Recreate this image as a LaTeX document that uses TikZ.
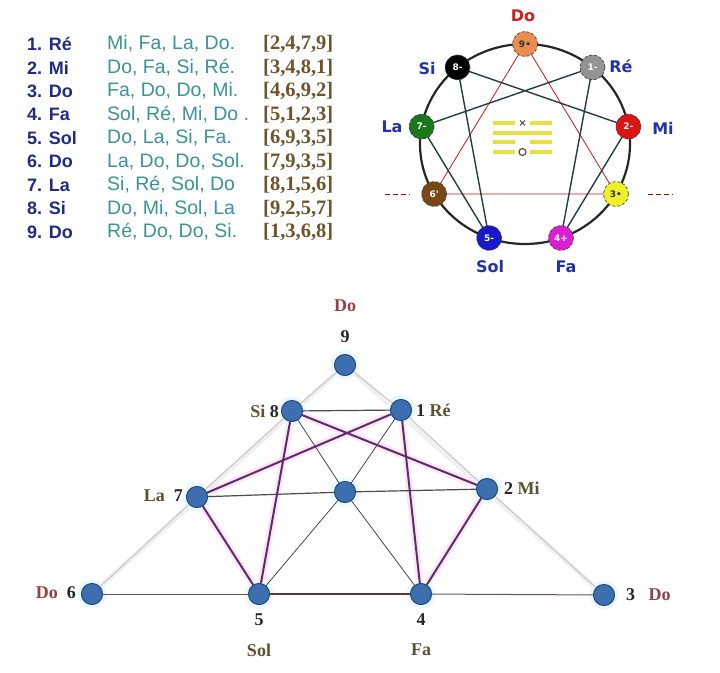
\documentclass[tikz,border=0pt]{standalone}
\usepackage{fontspec}
\setmainfont{Liberation Serif}
\newfontfamily\arialf{Liberation Sans}
\newfontfamily\verdf{DejaVu Sans}
\definecolor{navy}{HTML}{1F2A8A}
\definecolor{tealn}{HTML}{3A9494}
\definecolor{brk}{HTML}{6E5428}
\definecolor{eblue}{HTML}{2233AA}
\definecolor{ered}{HTML}{CC2222}
\definecolor{olivet}{HTML}{5A5230}
\definecolor{dored}{HTML}{93424A}
\definecolor{nodeb}{HTML}{3D6FB0}
\definecolor{nodebd}{HTML}{23467A}
\definecolor{purp}{HTML}{5B2D6E}
\definecolor{hexc}{HTML}{1F3F44}
\definecolor{yel}{HTML}{E8E040}
\begin{document}
\begin{tikzpicture}[x=1pt,y=-1pt,
  tname/.style={anchor=west,inner sep=0pt,font=\arialf\bfseries\fontsize{18}{20}\selectfont,text=navy},
  tnote/.style={anchor=west,inner sep=0pt,font=\arialf\fontsize{19.5}{21}\selectfont,text=tealn},
  tbrk/.style={anchor=west,inner sep=0pt,font=\bfseries\fontsize{20.5}{22}\selectfont,text=brk},
  en/.style={circle,minimum size=25pt,inner sep=0pt,draw=black!75,densely dashed,line width=0.7pt,font=\verdf\bfseries\fontsize{9}{10}\selectfont},
  elab/.style={font=\verdf\bfseries\fontsize{16}{18}\selectfont,text=eblue,inner sep=0pt},
  bn/.style={circle,minimum size=21pt,inner sep=0pt,fill=nodeb,draw=nodebd,line width=0.8pt},
  glowb/.style={circle,minimum size=29pt,inner sep=0pt,fill=cyan!8},
  blab/.style={font=\bfseries\fontsize{18}{20}\selectfont,text=black!85,inner sep=0pt},
  gline/.style={draw=gray!50,line width=0.8pt},
  gglow/.style={draw=gray!12,line width=5pt},
  pline/.style={draw=purp,line width=2pt},
  pglow/.style={draw=magenta!10,line width=7pt},
  tline/.style={draw=black!80,line width=0.7pt},
  hline/.style={draw=black!70,line width=1.2pt},
  yl/.style={draw=yel,line width=3.5pt}
]
\useasboundingbox (0,0) rectangle (720,672);
\fill[white] (0,0) rectangle (720,672);

% ---------- table ----------
\foreach \i/\nm/\nt/\br in {1/{1. Ré}/{Mi, Fa, La, Do.}/{[2,4,7,9]},
  2/{2. Mi}/{Do, Fa, Si, Ré.}/{[3,4,8,1]},
  3/{3. Do}/{Fa, Do, Do, Mi.}/{[4,6,9,2]},
  4/{4. Fa}/{Sol, Ré, Mi, Do .}/{[5,1,2,3]},
  5/{5. Sol}/{Do, La, Si, Fa.}/{[6,9,3,5]},
  6/{6. Do}/{La, Do, Do, Sol.}/{[7,9,3,5]},
  7/{7. La}/{Si, Ré, Sol, Do}/{[8,1,5,6]},
  8/{8. Si}/{Do, Mi, Sol, La}/{[9,2,5,7]},
  9/{9. Do}/{Ré, Do, Do, Si.}/{[1,3,6,8]}}{
  \pgfmathsetmacro\yy{44+23.5*(\i-1)}
  \node[tname] (tn\i) at (27,\yy) {\nm};
  \node[tnote] (tt\i) at (107,\yy) {\nt};
  \node[tbrk] (tb\i) at (263,\yy) {\br};
}

% ---------- enneagram ----------
\def\cx{525}\def\cy{144}\def\rx{105}\def\ry{100}
\foreach \k/\ang in {9/90,1/50,2/10,3/-30,4/-70,5/-110,6/-150,7/170,8/130}{
  \coordinate (ep\k) at ({\cx+\rx*cos(\ang)},{\cy-\ry*sin(\ang)});
}
\draw[black!85,line width=2.2pt] (\cx,\cy) ellipse [x radius=\rx,y radius=\ry];
% red triangle
\draw[red!75!black!90,line width=0.8pt] (ep9) -- (ep3) -- (ep6) -- cycle;
% hexad
\draw[hexc,line width=1.4pt] (ep1) -- (ep4) -- (ep2) -- (ep8) -- (ep5) -- (ep7) -- cycle;
% red dashes
\coordinate (dl1) at (385,194); \coordinate (dl2) at (410,194);
\coordinate (dr1) at (648,194); \coordinate (dr2) at (673,194);
\draw[red!75!black,line width=1pt,dash pattern=on 5pt off 3pt] (dl1) -- (dl2);
\draw[red!75!black,line width=1pt,dash pattern=on 5pt off 3pt] (dr1) -- (dr2);
% hexagram symbol
\draw[yl] (493,123) -- (515,123) (530,123) -- (552,123);
\draw[yl] (493,133) -- (552,133);
\draw[yl] (493,142) -- (515,142) (530,142) -- (552,142);
\draw[yl] (493,152) -- (515,152) (530,152) -- (552,152);
\node[inner sep=0pt,font=\verdf\bfseries\fontsize{10}{10}\selectfont,text=black!70] (hx) at (522.5,123) {×};
\node[circle,draw=olivet,line width=1.2pt,minimum size=7pt,inner sep=0pt] (ho) at (522.5,152) {};
% nodes
\node[en,fill={rgb,255:red,235;green,140;blue,80},text=black!80] (e9) at (ep9) {9•};
\node[en,fill=gray!85,text=white] (e1) at (ep1) {1-};
\node[en,fill={rgb,255:red,220;green,20;blue,20},text=white] (e2) at (ep2) {2-};
\node[en,fill={rgb,255:red,240;green,240;blue,40},text=black!80] (e3) at (ep3) {3•};
\node[en,fill={rgb,255:red,220;green,30;blue,210},text=white] (e4) at (ep4) {4+};
\node[en,fill={rgb,255:red,25;green,25;blue,200},text=white] (e5) at (ep5) {5-};
\node[en,fill={rgb,255:red,120;green,72;blue,25},text=white] (e6) at (ep6) {6'};
\node[en,fill={rgb,255:red,25;green,120;blue,25},text=white] (e7) at (ep7) {7-};
\node[en,fill=black,text=white] (e8) at (ep8) {8-};
% labels
\node[elab,text=ered] (l9) at (523,16) {Do};
\node[elab] (l8) at (427,69) {Si};
\node[elab] (l1) at (621,66) {Ré};
\node[elab] (l7) at (392,127) {La};
\node[elab] (l2) at (663,128) {Mi};
\node[elab] (l5) at (490,267) {Sol};
\node[elab] (l4) at (566,267) {Fa};

% ---------- bottom diagram ----------
\coordinate (p9) at (345,365);
\coordinate (p8) at (292,411);
\coordinate (p1) at (401,410);
\coordinate (p7) at (197,497);
\coordinate (pc) at (345,492);
\coordinate (p2) at (487,489);
\coordinate (p6) at (92,594);
\coordinate (p5) at (259,594);
\coordinate (p4) at (421,594);
\coordinate (p3) at (604,595);
% glows
\draw[gglow] (p6) -- (p9) -- (p3);
\draw[pglow] (p1) -- (p4) -- (p2) -- (p8) -- (p5) -- (p7) -- cycle;
\foreach \k in {9,8,1,7,c,2,6,5,4,3}{\node[glowb] (g\k) at (p\k) {};}
\node[bn] (b9) at (p9) {};
\node[bn] (b8) at (p8) {};
\node[bn] (b1) at (p1) {};
\node[bn] (b7) at (p7) {};
\node[bn] (bc) at (pc) {};
\node[bn] (b2) at (p2) {};
\node[bn] (b6) at (p6) {};
\node[bn] (b5) at (p5) {};
\node[bn] (b4) at (p4) {};
\node[bn] (b3) at (p3) {};
\draw[gline] (b6) -- (b7); \draw[gline] (b7) -- (b8); \draw[gline] (b8) -- (b9);
\draw[gline] (b9) -- (b1); \draw[gline] (b1) -- (b2); \draw[gline] (b2) -- (b3);
\draw[draw={rgb,255:red,110;green,80;blue,80},line width=1pt] (b6) -- (b5);
\draw[draw={rgb,255:red,90;green,56;blue,56},line width=2.6pt] (b5) -- (b4);
\draw[draw={rgb,255:red,110;green,80;blue,80},line width=1pt] (b4) -- (b3);
\draw[hline] (b8) -- (b1);
\draw[hline] (b7) -- (bc); \draw[hline] (bc) -- (b2);
\draw[tline] (bc) -- (b8); \draw[tline] (bc) -- (b1);
\draw[tline] (bc) -- (b5); \draw[tline] (bc) -- (b4);
\draw[pline] (b1) -- (b4); \draw[pline] (b4) -- (b2); \draw[pline] (b2) -- (b8);
\draw[pline] (b8) -- (b5); \draw[pline] (b5) -- (b7); \draw[pline] (b7) -- (b1);
% redraw nodes on top
\foreach \k in {9,8,1,7,c,2,6,5,4,3}{\node[bn] (bb\k) at (p\k) {};}
% labels
\node[blab,text=dored] (q9d) at (345,306) {Do};
\node[blab] (q9) at (345,337) {9};
\node[blab,anchor=east] (q8) at (279,411) {\textcolor{olivet}{Si} 8};
\node[blab,anchor=west] (q1) at (416,410) {1 \textcolor{olivet}{Ré}};
\node[blab,anchor=east] (q7) at (183,496) {\textcolor{olivet}{La}\ \ 7};
\node[blab,anchor=west] (q2) at (504,488) {2 \textcolor{olivet}{Mi}};
\node[blab,anchor=east] (q6) at (76,593) {\textcolor{dored}{Do}\ \ 6};
\node[blab] (q5) at (259,620) {5};
\node[blab,text=olivet] (q5s) at (259,650) {Sol};
\node[blab] (q4) at (421,620) {4};
\node[blab,text=olivet] (q4s) at (421,650) {Fa};
\node[blab,anchor=west] (q3) at (626,595) {3\ \ \ \textcolor{dored}{Do}};
\end{tikzpicture}
\end{document}
